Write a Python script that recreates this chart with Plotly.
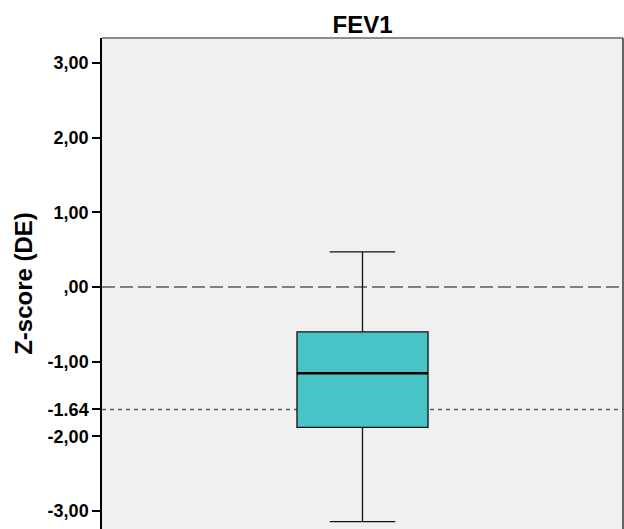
import plotly.graph_objects as go

# Data (Z-score, FEV1)
category = ["FEV1"]
upper_whisker = [0.47]
q3_values = [-0.60]
median_values = [-1.155]
q1_values = [-1.88]
lower_whisker = [-3.14]

ref_zero = 0.0
ref_lln = -1.64

tick_vals = [3, 2, 1, 0, -1, -1.64, -2, -3]
tick_text = ["3,00", "2,00", "1,00", ",00", "-1,00", "-1.64", "-2,00", "-3,00"]

box_w = 0.503
fig = go.Figure()
fig.add_trace(go.Box(
    x=[0], q1=q1_values, median=median_values, q3=q3_values,
    lowerfence=lower_whisker, upperfence=upper_whisker,
    width=box_w, whiskerwidth=0.5,
    fillcolor="#48C4C7", line=dict(color="#111111", width=1.3),
    boxpoints=False, hoverinfo="skip", showlegend=False,
))

# thicker median line
fig.add_shape(type="line", xref="x", yref="y",
              x0=-box_w / 2, x1=box_w / 2, y0=median_values[0], y1=median_values[0],
              line=dict(color="#000000", width=2.5))
# reference lines
fig.add_shape(type="line", xref="paper", yref="y", x0=0, x1=1, y0=ref_zero, y1=ref_zero,
              line=dict(color="#7F7F7F", width=2, dash="13px,5px"), layer="below")
fig.add_shape(type="line", xref="paper", yref="y", x0=0, x1=1, y0=ref_lln, y1=ref_lln,
              line=dict(color="#606060", width=1.5, dash="4px,4px"), layer="below")
# top / right border
fig.add_shape(type="line", xref="paper", yref="paper", x0=0, x1=1, y0=1, y1=1,
              line=dict(color="#8C8C8C", width=2))
fig.add_shape(type="line", xref="paper", yref="paper", x0=1, x1=1, y0=0, y1=1,
              line=dict(color="#333333", width=1.5))

fig.update_layout(
    width=624, height=529,
    margin=dict(l=102, r=1, t=38, b=0, autoexpand=False),
    paper_bgcolor="white", plot_bgcolor="#F0F0F0",
    font=dict(family="Liberation Sans, Arial, sans-serif", color="#000000"),
    title=dict(text="<b>FEV1</b>", x=0.581, xanchor="center", y=0.953, yanchor="middle",
               font=dict(size=24, color="#000000")),
    xaxis=dict(range=[-1, 1], showticklabels=False, showgrid=False, zeroline=False,
               showline=False, ticks=""),
    yaxis=dict(range=[-3.24, 3.333], tickvals=tick_vals, ticktext=[f"<b>{t}</b>" for t in tick_text],
               showgrid=False, zeroline=False, showline=True, linecolor="#000000", linewidth=1.5,
               ticks="outside", ticklen=8, tickcolor="#000000", tickwidth=1.5,
               tickfont=dict(size=18, color="#000000"), automargin=False,
               title=dict(text="<b>Z-score (DE)</b>", font=dict(size=24), standoff=8)),
)

fig.write_html("out.html", config={"displayModeBar": False},
               post_script="document.body.style.margin='0';document.body.style.overflow='hidden';")
